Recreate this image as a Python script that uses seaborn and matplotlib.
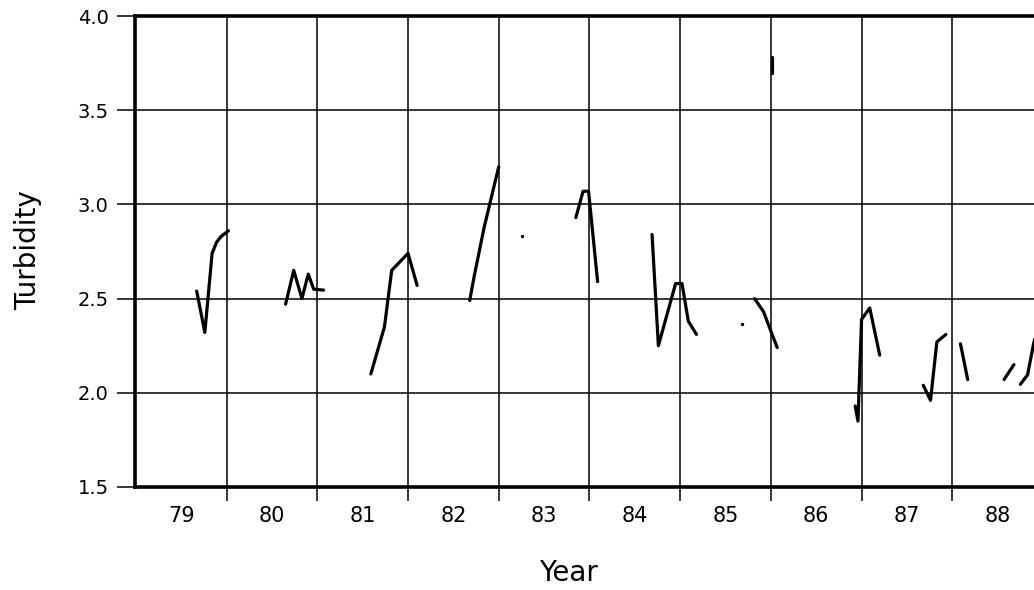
import matplotlib
matplotlib.use("Agg")
import matplotlib.pyplot as plt
import seaborn as sns
import pandas as pd
import numpy as np

# ---- data ----
segment = [1, 1, 1, 1, 1, 1,
           2, 2, 2, 2, 2, 2,
           3, 3, 3, 3, 3,
           4, 4, 4, 4,
           5, 5, 5, 5,
           6, 6, 6, 6, 6, 6,
           7, 7, 7, 7,
           8, 8, 8, 8, 8,
           9, 9, 9, 9,
           10, 10,
           11, 11,
           12, 12, 12, 12,
           13, 13]
year = [1979.67, 1979.76, 1979.84, 1979.89, 1979.94, 1980.02,
        1980.65, 1980.74, 1980.83, 1980.90, 1980.96, 1981.07,
        1981.59, 1981.74, 1981.82, 1982.00, 1982.10,
        1982.68, 1982.73, 1982.84, 1983.00,
        1983.85, 1983.93, 1983.99, 1984.09,
        1984.69, 1984.76, 1984.95, 1985.02, 1985.09, 1985.18,
        1985.82, 1985.92, 1985.99, 1986.07,
        1986.93, 1986.96, 1987.00, 1987.09, 1987.20,
        1987.68, 1987.76, 1987.83, 1987.93,
        1988.09, 1988.17,
        1988.57, 1988.68,
        1988.75, 1988.83, 1988.90, 1988.98,
        1986.015, 1986.015]
turbidity = [2.54, 2.32, 2.74, 2.80, 2.83, 2.86,
             2.47, 2.65, 2.50, 2.63, 2.55, 2.545,
             2.10, 2.35, 2.65, 2.74, 2.57,
             2.49, 2.62, 2.88, 3.20,
             2.93, 3.07, 3.07, 2.59,
             2.84, 2.25, 2.58, 2.58, 2.38, 2.31,
             2.50, 2.43, 2.34, 2.24,
             1.93, 1.85, 2.39, 2.45, 2.20,
             2.04, 1.96, 2.27, 2.31,
             2.26, 2.07,
             2.07, 2.15,
             2.045, 2.095, 2.27, 2.38,
             3.78, 3.70]

dot_year = [1983.26, 1985.68]
dot_turbidity = [2.83, 2.365]

year_labels = ["79", "80", "81", "82", "83", "84", "85", "86", "87", "88"]
y_ticks = [1.5, 2.0, 2.5, 3.0, 3.5, 4.0]

df = pd.DataFrame({"segment": segment, "year": year, "turbidity": turbidity})
dots = pd.DataFrame({"year": dot_year, "turbidity": dot_turbidity})

sns.set_theme(style="white")
plt.rcParams["font.family"] = ["DejaVu Sans"]
plt.rcParams["text.color"] = "black"
plt.rcParams["xtick.color"] = "black"
plt.rcParams["ytick.color"] = "black"
plt.rcParams["axes.labelcolor"] = "black"

fig = plt.figure(figsize=(10.34, 5.90), dpi=100)
ax = fig.add_axes([135 / 1034, 1 - 487 / 590, (1043 - 135) / 1034, (487 - 16) / 590])

sns.lineplot(data=df, x="year", y="turbidity", units="segment", estimator=None,
             color="black", lw=2.3, sort=False, ax=ax, legend=False)
sns.scatterplot(data=dots, x="year", y="turbidity", color="black", s=6,
                linewidth=0, ax=ax, legend=False)

ax.set_xlim(1978.99, 1989.0)
ax.set_ylim(1.5, 4.0)

# grid: vertical at year boundaries, horizontal at 0.5 steps
boundaries = [1979 + i for i in range(1, len(year_labels))]
for b in boundaries:
    ax.axvline(b, color="black", lw=1.1, zorder=0.5)
for yv in y_ticks[1:-1]:
    ax.axhline(yv, color="black", lw=1.1, zorder=0.5)

ax.set_xticks(boundaries)
ax.set_xticklabels([])
ax.tick_params(axis="x", which="major", direction="out", length=10, width=1.1,
               color="black", bottom=True)
mids = [1979.5 + i for i in range(len(year_labels))]
ax.set_xticks(mids, minor=True)
ax.set_xticklabels(year_labels, minor=True, fontsize=15, color="black")
ax.tick_params(axis="x", which="minor", length=0, pad=14, labelsize=15,
               labelcolor="black")

ax.set_yticks(y_ticks)
ax.set_yticklabels([f"{v:.1f}" for v in y_ticks], fontsize=14, color="black")
ax.tick_params(axis="y", direction="out", length=13, width=1.1, color="black",
               left=True, pad=6, labelcolor="black")

for side in ["left", "bottom", "top", "right"]:
    ax.spines[side].set_color("black")
    ax.spines[side].set_linewidth(2.6)

ax.set_xlabel("")
ax.set_ylabel("")
fig.text(568 / 1034, 1 - 573 / 590, "Year", fontsize=20, ha="center", va="center",
         color="black")
fig.text(28 / 1034, 1 - 250 / 590, "Turbidity", fontsize=20, rotation=90,
         ha="center", va="center", color="black")

fig.savefig("out.png", dpi=100)
